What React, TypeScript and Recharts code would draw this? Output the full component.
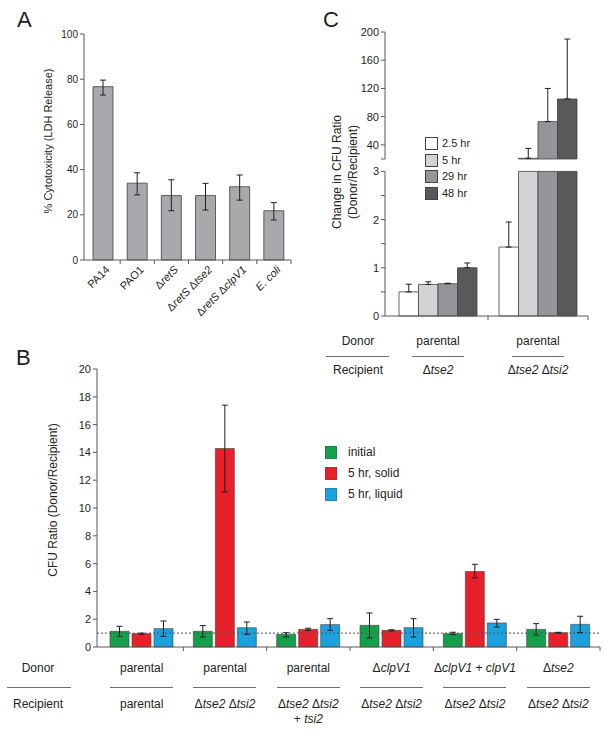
import React from "react";
import { Bar, BarChart, ErrorBar, ReferenceLine, XAxis, YAxis } from "recharts";

const FONT = '"Liberation Sans", Arial, Helvetica, sans-serif';
const INK = "#231f20";
const AXIS = "#58595b";
const EDGE = "#414042";

// ---- panel A: cytotoxicity
const strainsA = ["PA14", "PAO1", "ΔretS", "ΔretS Δtse2", "ΔretS ΔclpV1", "E. coli"];
const cytotoxicity = [76.7, 34, 28.5, 28.5, 32.4, 21.8];
const cytoLow = [73, 28.8, 21.8, 22.1, 26.5, 17.7];
const cytoHigh = [79.6, 38.6, 35.5, 33.9, 37.6, 25.4];
const ticksA = [0, 20, 40, 60, 80, 100];

// ---- panel B: CFU ratio per donor/recipient pair
const donorsB = ["parental", "parental", "parental", "ΔclpV1", "ΔclpV1 + clpV1", "Δtse2"];
const recipientsB = ["parental", "Δtse2 Δtsi2", "Δtse2 Δtsi2\n+ tsi2", "Δtse2 Δtsi2", "Δtse2 Δtsi2", "Δtse2 Δtsi2"];
const initialB = [1.13, 1.13, 0.91, 1.56, 0.96, 1.27];
const initialLow = [0.77, 0.72, 0.72, 0.65, 0.89, 0.84];
const initialHigh = [1.49, 1.54, 1.03, 2.45, 1.06, 1.68];
const solidB = [0.96, 14.28, 1.27, 1.2, 5.43, 1.03];
const solidLow = [0.92, 11.16, 1.2, 1.15, 4.97, 1.0];
const solidHigh = [1.0, 17.4, 1.35, 1.24, 5.95, 1.06];
const liquidB = [1.32, 1.39, 1.61, 1.39, 1.73, 1.63];
const liquidLow = [0.77, 0.91, 1.2, 0.72, 1.44, 1.03];
const liquidHigh = [1.87, 1.8, 2.04, 2.04, 1.99, 2.21];
const seriesNamesB = ["initial", "5 hr, solid", "5 hr, liquid"];
const seriesColorsB = ["#14a04b", "#e8202a", "#1ba1dd"];
const ticksB = [0, 2, 4, 6, 8, 10, 12, 14, 16, 18, 20];

// ---- panel C: change in CFU ratio over time
const timepointsC = ["2.5 hr", "5 hr", "29 hr", "48 hr"];
const donorsC = ["parental", "parental"];
const recipientsC = ["Δtse2", "Δtse2 Δtsi2"];
const changeTse2 = [0.5, 0.655, 0.67, 1.0];
const changeTse2Up = [0.66, 0.71, 0.68, 1.1];
const changeTse2Tsi2 = [1.43, 21, 73, 105];
const changeTse2Tsi2Up = [1.95, 35, 120, 190];
const colorsC = ["#ffffff", "#d1d3d4", "#939598", "#58595b"];
const ticksCLow = [0, 0.5, 1, 1.5, 2, 2.5, 3];
const ticksCHigh = [20, 40, 80, 120, 160, 200];
const BREAK_LOW = 3;
const BREAK_HIGH = 20;

const rowsA = strainsA.map((strain, i) => ({
  strain,
  value: cytotoxicity[i],
  err: [cytotoxicity[i] - cytoLow[i], cytoHigh[i] - cytotoxicity[i]],
}));

const rowsB = donorsB.map((_, i) => ({
  pair: "g" + i,
  initial: initialB[i],
  initialErr: [initialB[i] - initialLow[i], initialHigh[i] - initialB[i]],
  solid: solidB[i],
  solidErr: [solidB[i] - solidLow[i], solidHigh[i] - solidB[i]],
  liquid: liquidB[i],
  liquidErr: [liquidB[i] - liquidLow[i], liquidHigh[i] - liquidB[i]],
}));

const valuesC = [changeTse2, changeTse2Tsi2];
const upperC = [changeTse2Up, changeTse2Tsi2Up];

const rowsCLow = valuesC.map((vals, c) => {
  const row: any = { pair: "c" + c };
  vals.forEach((v, k) => {
    row["h" + k] = Math.min(v, BREAK_LOW);
    row["e" + k] = v <= BREAK_LOW ? [0, upperC[c][k] - v] : undefined;
  });
  return row;
});

const rowsCHigh = valuesC.map((vals, c) => {
  const row: any = { pair: "c" + c };
  vals.forEach((v, k) => {
    row["h" + k] = v > BREAK_LOW ? v : null;
    row["e" + k] = v > BREAK_LOW ? [0, upperC[c][k] - v] : undefined;
  });
  return row;
});

const ITALIC = new Set(["retS", "tse2", "tsi2", "clpV1", "E.", "coli"]);
const tokens = (s: string) => s.split(/(Δ|\s+|\+)/).filter((t) => t.length > 0);

function HtmlLabel({ text }: { text: string }) {
  return (
    <>
      {tokens(text).map((t, i) =>
        ITALIC.has(t) ? <i key={i}>{t}</i> : <span key={i}>{t}</span>
      )}
    </>
  );
}

function Txt({ x, y, size = 12, children }: any) {
  return (
    <div
      style={{
        position: "absolute",
        left: x,
        top: y,
        transform: "translate(-50%, -50%)",
        fontSize: size,
        lineHeight: 1,
        whiteSpace: "pre",
      }}
    >
      {children}
    </div>
  );
}

function VTxt({ x, y, size = 12, children }: any) {
  return (
    <div
      style={{
        position: "absolute",
        left: x,
        top: y,
        transform: "translate(-50%, -50%) rotate(-90deg)",
        fontSize: size,
        lineHeight: 1,
        whiteSpace: "nowrap",
      }}
    >
      {children}
    </div>
  );
}

function Rule({ x1, x2, y }: any) {
  return <div style={{ position: "absolute", left: x1, top: y, width: x2 - x1, height: 1.3, background: "#6d6e71" }} />;
}

function Letter({ x, y, children }: any) {
  return <div style={{ position: "absolute", left: x, top: y, fontSize: 22, lineHeight: "22px" }}>{children}</div>;
}

// tick mark on the right edge of each category, optional label
const boundaryTick = (halfBand: number, label?: (p: any) => React.ReactNode) => (props: any) => {
  const { x, y, payload } = props;
  const off = payload && payload.offset ? payload.offset : halfBand;
  return (
    <g>
      <line x1={x + off} x2={x + off} y1={y} y2={y + 4} stroke={AXIS} />
      {label ? label(props) : null}
    </g>
  );
};

const rotatedLabel = (props: any) => {
  const { x, y, payload } = props;
  const ax = x + 5;
  const ay = y + 8;
  return (
    <text x={ax} y={ay} dy="0.3em" textAnchor="end" fontSize={11} fill={INK} transform={`rotate(-45 ${ax} ${ay})`}>
      {tokens(String(payload.value)).map((t, i) => (
        <tspan key={i} fontStyle={ITALIC.has(t) ? "italic" : "normal"}>
          {t}
        </tspan>
      ))}
    </text>
  );
};

const yTick = (size: number) => ({ fill: INK, fontSize: size });

export default function App() {
  return (
    <div
      style={{
        position: "absolute",
        left: 0,
        top: 0,
        width: 604,
        height: 731,
        background: "#fff",
        fontFamily: FONT,
        color: INK,
        overflow: "hidden",
      }}
    >
      {/* ---------- A ---------- */}
      <Letter x={17} y={9}>A</Letter>
      <div style={{ position: "absolute", left: 0, top: 0 }}>
        <BarChart width={300} height={320} data={rowsA} margin={{ top: 34, right: 9, bottom: 0, left: 0 }} style={{ fontFamily: FONT }}>
          <XAxis
            dataKey="strain"
            height={60}
            padding={{ left: 2, right: 0 }}
            stroke={AXIS}
            tickLine={false}
            tickSize={0}
            tickMargin={0}
            interval={0}
            tick={boundaryTick(17, rotatedLabel)}
          />
          <YAxis
            width={84}
            domain={[0, 100]}
            ticks={ticksA}
            interval={0}
            stroke={AXIS}
            tickSize={4}
            tickMargin={2}
            tick={yTick(10)}
          />
          <Bar dataKey="value" barSize={20} fill="#a7a9ac" stroke={EDGE} strokeWidth={0.8} isAnimationActive={false}>
            <ErrorBar dataKey="err" width={3} stroke={INK} strokeWidth={1} />
          </Bar>
        </BarChart>
      </div>
      <VTxt x={48} y={141} size={11}>% Cytotoxicity (LDH Release)</VTxt>

      {/* ---------- C ---------- */}
      <Letter x={323} y={9}>C</Letter>
      <div style={{ position: "absolute", left: 290, top: 0 }}>
        <BarChart width={314} height={170} data={rowsCHigh} margin={{ top: 32, right: 16, bottom: 11, left: 0 }} barGap={0} style={{ fontFamily: FONT }}>
          <XAxis dataKey="pair" hide padding={{ left: 3, right: 0 }} />
          <YAxis
            width={95}
            domain={[BREAK_HIGH, 200]}
            ticks={ticksCHigh}
            interval={0}
            stroke={AXIS}
            tickSize={4}
            tickMargin={2}
            tick={yTick(11)}
            tickFormatter={(v: number) => (v === BREAK_HIGH ? "" : String(v))}
          />
          {timepointsC.map((t, k) => (
            <Bar key={t} dataKey={"h" + k} name={t} barSize={19.5} fill={colorsC[k]} stroke={EDGE} strokeWidth={0.8} isAnimationActive={false}>
              <ErrorBar dataKey={"e" + k} width={3} stroke={INK} strokeWidth={1} />
            </Bar>
          ))}
        </BarChart>
      </div>
      <div style={{ position: "absolute", left: 290, top: 160 }}>
        <BarChart width={314} height={170} data={rowsCLow} margin={{ top: 11.4, right: 16, bottom: 4, left: 0 }} barGap={0} style={{ fontFamily: FONT }}>
          <XAxis
            dataKey="pair"
            height={10}
            padding={{ left: 3, right: 0 }}
            stroke={AXIS}
            tickLine={false}
            tickSize={0}
            tickMargin={0}
            interval={0}
            tick={boundaryTick(50)}
          />
          <YAxis
            width={95}
            domain={[0, BREAK_LOW]}
            ticks={ticksCLow}
            interval={0}
            stroke={AXIS}
            tickSize={4}
            tickMargin={2}
            tick={yTick(11)}
            tickFormatter={(v: number) => (Number.isInteger(v) ? String(v) : "")}
          />
          {timepointsC.map((t, k) => (
            <Bar key={t} dataKey={"h" + k} name={t} barSize={19.5} fill={colorsC[k]} stroke={EDGE} strokeWidth={0.8} isAnimationActive={false}>
              <ErrorBar dataKey={"e" + k} width={3} stroke={INK} strokeWidth={1} />
            </Bar>
          ))}
        </BarChart>
      </div>
      <VTxt x={337} y={172} size={12}>Change in CFU Ratio</VTxt>
      <VTxt x={353} y={172} size={12}>(Donor/Recipient)</VTxt>
      {timepointsC.map((t, k) => (
        <React.Fragment key={t}>
          <div
            style={{
              position: "absolute",
              left: 425,
              top: 137 + k * 16.6,
              width: 11,
              height: 11,
              background: colorsC[k],
              border: `0.8px solid ${EDGE}`,
            }}
          />
          <div style={{ position: "absolute", left: 442, top: 137 + k * 16.6, fontSize: 11, lineHeight: "12px" }}>{t}</div>
        </React.Fragment>
      ))}
      <Txt x={358} y={341}>Donor</Txt>
      <Txt x={358} y={370}>Recipient</Txt>
      <Rule x1={326} x2={389} y={356} />
      {donorsC.map((d, c) => {
        const cx = 388 + 100 * (c + 0.5);
        return (
          <React.Fragment key={c}>
            <Txt x={cx} y={341}>
              <HtmlLabel text={d} />
            </Txt>
            <Rule x1={cx - 26} x2={cx + 26} y={356} />
            <Txt x={cx} y={370}>
              <HtmlLabel text={recipientsC[c]} />
            </Txt>
          </React.Fragment>
        );
      })}

      {/* ---------- B ---------- */}
      <Letter x={16} y={347}>B</Letter>
      <div style={{ position: "absolute", left: 0, top: 340 }}>
        <BarChart width={604} height={320} data={rowsB} margin={{ top: 29, right: 4, bottom: 1, left: 0 }} barGap={3} style={{ fontFamily: FONT }}>
          <XAxis
            dataKey="pair"
            height={12}
            padding={{ left: 3, right: 0 }}
            stroke={AXIS}
            tickLine={false}
            tickSize={0}
            tickMargin={0}
            interval={0}
            tick={boundaryTick(41.7)}
          />
          <YAxis
            width={97}
            domain={[0, 20]}
            ticks={ticksB}
            interval={0}
            stroke={AXIS}
            tickSize={4}
            tickMargin={2}
            tick={yTick(11)}
          />
          <ReferenceLine y={1} stroke="#555" strokeDasharray="2 2" strokeWidth={1} />
          {["initial", "solid", "liquid"].map((key, s) => (
            <Bar key={key} dataKey={key} name={seriesNamesB[s]} barSize={19} fill={seriesColorsB[s]} stroke={EDGE} strokeWidth={0.6} isAnimationActive={false}>
              <ErrorBar dataKey={key + "Err"} width={3} stroke={INK} strokeWidth={1} />
            </Bar>
          ))}
        </BarChart>
      </div>
      <VTxt x={53} y={500} size={12}>CFU Ratio (Donor/Recipient)</VTxt>
      {seriesNamesB.map((n, s) => (
        <React.Fragment key={n}>
          <div
            style={{
              position: "absolute",
              left: 325,
              top: 446 + s * 21.2,
              width: 12,
              height: 13,
              background: seriesColorsB[s],
              boxShadow: "inset 0 0 0 0.6px #41404280",
            }}
          />
          <div style={{ position: "absolute", left: 348, top: 446 + s * 21.2, fontSize: 12, lineHeight: "13px" }}>{n}</div>
        </React.Fragment>
      ))}
      <Txt x={38} y={668}>Donor</Txt>
      <Txt x={38} y={704}>Recipient</Txt>
      <Rule x1={7} x2={71} y={687} />
      {donorsB.map((d, i) => {
        const cx = 100 + 83.33 * (i + 0.5);
        const rec = recipientsB[i].split("\n");
        return (
          <React.Fragment key={i}>
            <Txt x={cx} y={668}>
              <HtmlLabel text={d} />
            </Txt>
            <Rule x1={cx - 31.5} x2={cx + 31.5} y={687} />
            {rec.map((line, j) => (
              <Txt key={j} x={cx} y={704 + j * 15}>
                <HtmlLabel text={line} />
              </Txt>
            ))}
          </React.Fragment>
        );
      })}
    </div>
  );
}
